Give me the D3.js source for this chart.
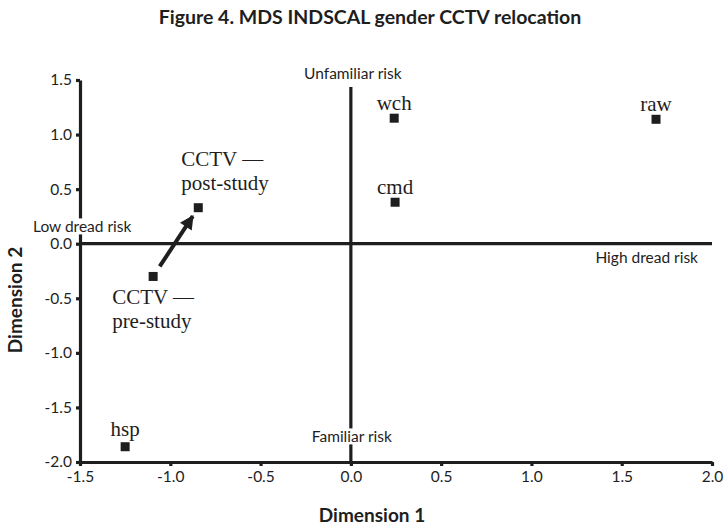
<!DOCTYPE html>
<html>
<head>
<meta charset="utf-8">
<script src="https://cdn.jsdelivr.net/npm/d3@7"></script>
<style>
  body { margin: 0; background: #fff; }
  svg { display: block; }
</style>
</head>
<body>
<div id="chart"></div>
<script>
// MDS INDSCAL coordinates
var labels = ['wch', 'raw', 'cmd', 'post', 'pre', 'hsp'];
var dim1   = [0.24, 1.69, 0.245, -0.845, -1.095, -1.25];
var dim2   = [1.15, 1.14, 0.38, 0.33, -0.30, -1.86];

var xTicks = [-1.5, -1.0, -0.5, 0.0, 0.5, 1.0, 1.5, 2.0];
var yTicks = [-2.0, -1.5, -1.0, -0.5, 0.0, 0.5, 1.0, 1.5];

// label text lines for every point (CCTV points get two lines)
var pointText = {
  wch: ['wch'], raw: ['raw'], cmd: ['cmd'], hsp: ['hsp'],
  post: ['CCTV \u2014', 'post-study'],
  pre: ['CCTV \u2014', 'pre-study']
};

var width = 724, height = 529;
var ink = '#1e1e1e';
var sans = 'Lato, "Open Sans", sans-serif';
var serif = '"Liberation Serif", "DejaVu Serif", serif';

var x = d3.scaleLinear().domain([-1.5, 2.0]).range([80, 712]);
var y = d3.scaleLinear().domain([-2.0, 1.5]).range([462, 80]);

var svg = d3.select('#chart').append('svg')
    .attr('width', width)
    .attr('height', height)
    .style('background', 'white');

svg.append('defs').append('marker')
    .attr('id', 'head')
    .attr('viewBox', '0 0 10 10')
    .attr('refX', 9).attr('refY', 5)
    .attr('markerUnits', 'userSpaceOnUse')
    .attr('markerWidth', 16).attr('markerHeight', 14)
    .attr('orient', 'auto')
  .append('path')
    .attr('d', 'M0,0 L10,5 L0,10 Z')
    .attr('fill', ink);

// title
svg.append('text')
    .attr('x', 370).attr('y', 24)
    .attr('text-anchor', 'middle')
    .style('font-family', sans).style('font-weight', 'bold').style('font-size', '19.5px')
    .attr('fill', ink)
    .text('Figure 4. MDS INDSCAL gender CCTV relocation');

// axes
var fmt = function(d){ return d.toFixed(1); };
var xAxis = svg.append('g').attr('class', 'x_axis')
    .attr('transform', 'translate(0,' + y(-2.0) + ')')
    .call(d3.axisBottom(x).tickValues(xTicks).tickFormat(fmt).tickSize(4).tickSizeOuter(0).tickPadding(5));
var yAxis = svg.append('g').attr('class', 'y_axis')
    .attr('transform', 'translate(' + x(-1.5) + ',0)')
    .call(d3.axisLeft(y).tickValues(yTicks).tickFormat(fmt).tickSize(4).tickSizeOuter(0).tickPadding(4));

svg.selectAll('.x_axis path, .y_axis path, .x_axis line, .y_axis line')
    .attr('stroke', ink).attr('stroke-width', 3.2);
svg.selectAll('.x_axis text, .y_axis text')
    .style('font-family', sans).style('font-size', '15.5px').attr('fill', ink);

// zero cross lines
svg.append('line')
    .attr('x1', x(-1.5)).attr('x2', x(2.0))
    .attr('y1', y(0)).attr('y2', y(0))
    .attr('stroke', ink).attr('stroke-width', 3.2);
svg.append('line')
    .attr('x1', x(0)).attr('x2', x(0))
    .attr('y1', 87).attr('y2', y(-2.0))
    .attr('stroke', ink).attr('stroke-width', 3.2);

// quadrant labels, white box behind so they cut the lines
var quad = [
  {t: 'Unfamiliar risk', x: x(0) + 2, y: 74, a: 'middle'},
  {t: 'Familiar risk', x: x(0) + 1, y: 437, a: 'middle'},
  {t: 'Low dread risk', x: 33, y: 227, a: 'start'},
  {t: 'High dread risk', x: 698, y: 258, a: 'end'}
];
quad.forEach(function(q){
  var t = svg.append('text')
      .attr('x', q.x).attr('y', q.y)
      .attr('dy', '0.35em')
      .attr('text-anchor', q.a)
      .style('font-family', sans).style('font-size', '15.5px')
      .attr('fill', ink)
      .text(q.t);
  var b = t.node().getBBox();
  svg.insert('rect', function(){ return t.node(); })
      .attr('x', b.x - 2).attr('y', b.y + 1)
      .attr('width', b.width + 4).attr('height', b.height - 2)
      .attr('fill', 'white');
});

// arrow pre -> post
var iPre = labels.indexOf('pre'), iPost = labels.indexOf('post');
var x0 = x(dim1[iPre]), y0 = y(dim2[iPre]), x1 = x(dim1[iPost]), y1 = y(dim2[iPost]);
var len = Math.hypot(x1 - x0, y1 - y0), ux = (x1 - x0) / len, uy = (y1 - y0) / len;
svg.append('line')
    .attr('x1', x0 + ux * 12).attr('y1', y0 + uy * 12)
    .attr('x2', x1 - ux * 10).attr('y2', y1 - uy * 10)
    .attr('stroke', ink).attr('stroke-width', 4)
    .attr('marker-end', 'url(#head)');

// points
var pts = labels.map(function(l, i){ return {label: l, dx: dim1[i], dy: dim2[i]}; });
svg.selectAll('rect.pt')
    .data(pts).enter()
    .append('rect')
    .attr('class', 'pt')
    .attr('x', function(d){ return x(d.dx) - 4.5; })
    .attr('y', function(d){ return y(d.dy) - 4.5; })
    .attr('width', 9).attr('height', 9)
    .attr('fill', ink);

// point labels
var offs = {
  wch: [0, -8, 'middle'], raw: [0, -8, 'middle'], cmd: [0, -8, 'middle'], hsp: [0, -11, 'middle'],
  post: [-17, -42, 'start'], pre: [-41, 28, 'start']
};
pts.forEach(function(d){
  var o = offs[d.label];
  var t = svg.append('text')
      .attr('x', x(d.dx) + o[0]).attr('y', y(d.dy) + o[1])
      .attr('text-anchor', o[2])
      .style('font-family', serif).style('font-size', '21px')
      .attr('fill', ink);
  pointText[d.label].forEach(function(line, k){
    t.append('tspan')
        .attr('x', x(d.dx) + o[0])
        .attr('dy', k === 0 ? 0 : 24)
        .text(line);
  });
});

// axis titles
svg.append('text')
    .attr('x', 372).attr('y', 522)
    .attr('text-anchor', 'middle')
    .style('font-family', sans).style('font-weight', 'bold').style('font-size', '19px')
    .attr('fill', ink)
    .text('Dimension 1');
svg.append('text')
    .attr('transform', 'translate(22,300) rotate(-90)')
    .attr('text-anchor', 'middle')
    .style('font-family', sans).style('font-weight', 'bold').style('font-size', '19px')
    .attr('fill', ink)
    .text('Dimension 2');
</script>
</body>
</html>
